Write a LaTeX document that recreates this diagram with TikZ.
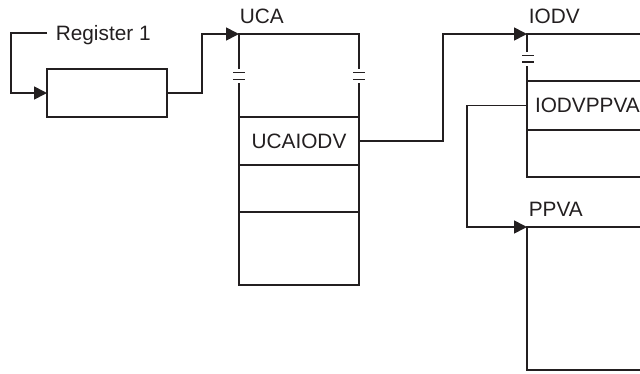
\documentclass[tikz,border=0pt]{standalone}
\usepackage{fontspec}
\setmainfont{Liberation Sans}
\usetikzlibrary{arrows.meta}
\definecolor{ink}{HTML}{231F20}
\begin{document}
\begin{tikzpicture}[x=1pt,y=-1pt,
  line width=1.7pt, draw=ink, color=ink,
  txt/.style={font=\fontsize{20.8}{24}\selectfont, text=ink},
  box/.style={draw=ink, rectangle, inner sep=0pt, outer sep=0pt, txt},
  lbl/.style={txt, inner sep=0pt, anchor=base west},
  conn/.style={-{Triangle[length=13pt,width=13pt]}},
  brk/.style={line width=1.7pt}]
\useasboundingbox (0,0) rectangle (640,373);
\clip (0,0) rectangle (640,373);

% Register 1
\node[lbl, inner xsep=8pt] (reglabel) at (47,40) {Register 1};
\node[box, minimum width=120pt, minimum height=48pt] (reg) at (107,93) {};

% UCA control block
\node[lbl] (ucalabel) at (239,23) {UCA};
\coordinate (ucatl) at (239,34);
\coordinate (ucatr) at (359,34);
\node[box, minimum width=120pt, minimum height=48pt] (ucaiodv) at (299,141) {UCAIODV};
\node[box, minimum width=120pt, minimum height=47pt] (ucarow2) at (299,188.5) {};
\node[box, minimum width=120pt, minimum height=73pt] (ucarow3) at (299,248.5) {};
\draw (239,69) -- (ucatl) -- (ucatr) -- (359,69);
\draw (239,83) -- (ucaiodv.north west);
\draw (359,83) -- (ucaiodv.north east);
\draw[brk] (233,72.5) -- (245,72.5) (233,79.5) -- (245,79.5);
\draw[brk] (353,72.5) -- (365,72.5) (353,79.5) -- (365,79.5);

% IODV control block
\node[lbl] (iodvlabel) at (528,23) {IODV};
\coordinate (iodvtl) at (527,34);
\node[box, minimum width=150pt, minimum height=49pt, text width=134pt, align=left, inner xsep=8pt] (iodvppva) at (602,105.5) {IODVPPVA};
\node[box, minimum width=150pt, minimum height=47pt] (iodvrow2) at (602,153.5) {};
\draw (527,52) -- (iodvtl) -- (680,34);
\draw (527,66) -- (iodvppva.north west);
\draw[brk] (522,55.5) -- (534,55.5) (522,62) -- (534,62);

% PPVA
\node[lbl] (ppvalabel) at (528,216) {PPVA};
\node[box, minimum width=150pt, minimum height=143pt] (ppva) at (602,298.5) {};

% connectors
\coordinate (c1) at (11,93);
\coordinate (c2) at (202,34);
\coordinate (c3) at (443,34);
\coordinate (c4) at (467,227);
\draw[conn] (reglabel.base west) ++(0,-7) -| (c1) -- (reg.west);
\draw[conn] (reg.east) -| (c2) -- (ucatl);
\draw[conn] (ucaiodv.east) -| (c3) -- (iodvtl);
\draw[conn] (iodvppva.west) -| (c4) -- (ppva.north west);
\end{tikzpicture}
\end{document}
